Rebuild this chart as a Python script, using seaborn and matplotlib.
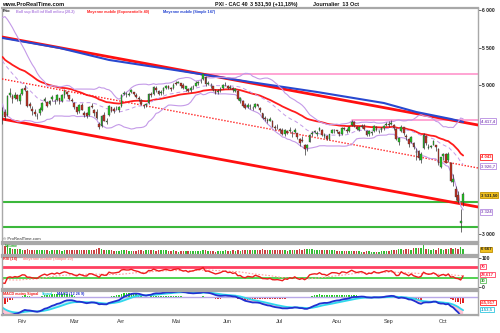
import numpy as np
import pandas as pd
import matplotlib
matplotlib.use("Agg")
import matplotlib.pyplot as plt
import matplotlib.transforms as mtransforms
import seaborn as sns

# ---------------- DATA ----------------
holidays = ["2008-03-21", "2008-03-24", "2008-05-01"]

# warm-up closes (Dec 2007 - Jan 21 2008), used only for indicators
warmup_close = [5590, 5560, 5620, 5660, 5740, 5730, 5720, 5780, 5630, 5620, 5500, 5530, 5540, 5550, 5640, 5650, 5650, 5640, 5614,
                5550, 5520, 5450, 5435, 5440, 5370, 5325, 5250, 5265, 5136, 5050, 5022, 5092, 4744]

open_ = [4600, 4640, 4600, 4860, 4850, 4830, 4860, 4790,
         4880, 4960, 4920, 4740, 4680, 4640, 4580, 4620, 4670, 4780, 4770, 4740, 4810, 4790, 4800, 4820, 4790, 4860, 4900, 4860, 4800,
         4760, 4700, 4650, 4730, 4620, 4620, 4600, 4720, 4660, 4640, 4480, 4450, 4600, 4500, 4600, 4700, 4680, 4680, 4660,
         4720, 4880, 4880, 4870, 4900, 4900, 4870, 4830, 4800, 4720, 4730, 4760, 4880, 4880, 4960, 4920, 4890, 4920, 4960, 4980, 4960, 4960,
         5020, 5030, 5020, 5000, 4950, 4950, 4930, 4970, 4990, 5020, 5050, 5080, 5110, 5010, 4990, 4980, 4920, 4900, 4930, 4960, 5010,
         4990, 4960, 4960, 4920, 4920, 4790, 4790, 4730, 4710, 4720, 4690, 4700, 4740, 4690, 4620, 4560, 4530, 4520, 4520, 4430, 4440,
         4410, 4400, 4340, 4380, 4380, 4360, 4370, 4350, 4270, 4260, 4190, 4150, 4240, 4340, 4370, 4340, 4390, 4400, 4320, 4320, 4280, 4360, 4390,
         4390, 4370, 4340, 4420, 4400, 4380, 4460, 4500, 4440, 4400, 4440, 4450, 4380, 4340, 4350, 4380, 4440, 4380, 4390, 4420, 4460,
         4480, 4470, 4460, 4410, 4240, 4380, 4430, 4310, 4280, 4230, 4220, 4100, 4120, 4000, 4150, 4310, 4160, 4170, 4200, 4190, 4140, 3900,
         4050, 4070, 4000, 3950, 3700, 3600, 3520, 3150, 3430]

high = [4700, 4680, 4860, 4960, 4880, 4900, 4880, 4890,
        4965, 5000, 4935, 4770, 4720, 4680, 4620, 4700, 4770, 4840, 4780, 4800, 4860, 4810, 4880, 4830, 4880, 4940, 4920, 4870, 4820,
        4770, 4710, 4740, 4760, 4650, 4640, 4720, 4760, 4680, 4680, 4500, 4600, 4640, 4560, 4730, 4710, 4700, 4720, 4720,
        4880, 4920, 4900, 4900, 4950, 4910, 4890, 4850, 4810, 4740, 4760, 4890, 4900, 4990, 4980, 4930, 4930, 4970, 5000, 5000, 4970, 5020,
        5060, 5060, 5030, 5020, 4990, 4960, 4980, 5000, 5050, 5050, 5080, 5150, 5120, 5060, 5020, 4990, 4940, 4940, 4970, 5010, 5040,
        5000, 5000, 4970, 4960, 4930, 4840, 4800, 4760, 4760, 4740, 4720, 4760, 4750, 4700, 4630, 4590, 4560, 4570, 4530, 4460, 4470,
        4420, 4420, 4410, 4390, 4430, 4380, 4420, 4360, 4290, 4310, 4210, 4210, 4340, 4380, 4400, 4380, 4440, 4410, 4350, 4330, 4340, 4410, 4410,
        4400, 4380, 4430, 4440, 4420, 4450, 4530, 4510, 4450, 4450, 4470, 4470, 4390, 4390, 4380, 4460, 4450, 4400, 4430, 4460, 4500,
        4510, 4530, 4470, 4420, 4300, 4460, 4440, 4340, 4290, 4320, 4230, 4150, 4130, 4100, 4360, 4330, 4210, 4200, 4260, 4200, 4150, 4040,
        4090, 4090, 4100, 3960, 3800, 3650, 3580, 3330, 3560]

low = [4480, 4530, 4590, 4840, 4760, 4810, 4780, 4740,
       4860, 4920, 4705, 4690, 4600, 4590, 4550, 4600, 4650, 4770, 4700, 4730, 4790, 4740, 4790, 4740, 4770, 4830, 4850, 4800, 4770,
       4680, 4610, 4630, 4660, 4570, 4560, 4590, 4690, 4580, 4540, 4410, 4440, 4510, 4470, 4590, 4640, 4630, 4660, 4640,
       4710, 4860, 4840, 4850, 4890, 4860, 4820, 4790, 4730, 4690, 4700, 4750, 4840, 4870, 4910, 4860, 4870, 4880, 4940, 4950, 4920, 4950,
       5000, 5020, 4960, 4940, 4920, 4900, 4910, 4950, 4980, 5000, 5030, 5070, 4990, 5000, 4960, 4920, 4880, 4880, 4910, 4950, 4990,
       4940, 4940, 4900, 4900, 4800, 4760, 4710, 4680, 4690, 4680, 4660, 4690, 4700, 4640, 4540, 4520, 4490, 4510, 4430, 4400, 4410,
       4350, 4330, 4320, 4340, 4370, 4300, 4350, 4280, 4180, 4230, 4060, 4110, 4230, 4320, 4350, 4310, 4380, 4320, 4290, 4260, 4260, 4350, 4360,
       4350, 4320, 4330, 4390, 4360, 4370, 4450, 4440, 4390, 4380, 4420, 4390, 4320, 4320, 4330, 4370, 4380, 4350, 4370, 4400, 4450,
       4440, 4460, 4390, 4260, 4200, 4370, 4330, 4260, 4170, 4220, 4140, 3990, 4000, 3950, 4140, 4200, 4140, 4150, 4190, 4120, 3920, 3880,
       4000, 3950, 3970, 3700, 3650, 3460, 3420, 3030, 3380]

close = [4654, 4573, 4848, 4893, 4817, 4870, 4818, 4869,
         4951, 4936, 4717, 4720, 4648, 4609, 4589, 4680, 4755, 4815, 4721, 4791, 4839, 4782, 4860, 4789, 4866, 4923, 4884, 4812, 4790,
         4707, 4636, 4729, 4667, 4600, 4587, 4708, 4701, 4628, 4557, 4431, 4586, 4519, 4520, 4720, 4655, 4655, 4683, 4707,
         4867, 4899, 4877, 4879, 4927, 4874, 4843, 4813, 4747, 4716, 4745, 4878, 4866, 4975, 4932, 4882, 4912, 4956, 4990, 4960, 4940, 4996,
         5015, 5044, 4993, 4956, 4980, 4925, 4963, 4973, 5026, 5035, 5059, 5142, 5012, 5025, 4984, 4936, 4898, 4919, 4949, 5002, 5014,
         4958, 4974, 4926, 4948, 4816, 4822, 4723, 4690, 4735, 4713, 4691, 4747, 4712, 4660, 4552, 4547, 4522, 4540, 4439, 4428, 4434,
         4395, 4341, 4390, 4356, 4400, 4357, 4402, 4297, 4225, 4255, 4143, 4198, 4327, 4359, 4376, 4359, 4424, 4335, 4329, 4271, 4336, 4395, 4392,
         4379, 4337, 4424, 4415, 4379, 4441, 4507, 4452, 4409, 4435, 4452, 4404, 4335, 4378, 4364, 4447, 4395, 4384, 4419, 4445, 4483,
         4460, 4484, 4420, 4278, 4283, 4442, 4351, 4308, 4209, 4299, 4168, 4102, 4026, 4078, 4324, 4215, 4163, 4183, 4253, 4163, 3953, 4032,
         4080, 3957, 4080, 3711, 3742, 3496, 3443, 3176, 3531]

volume = [330, 290, 300, 230, 190, 180, 200, 190,
          170, 150, 190, 160, 160, 150, 140, 160, 170, 165, 150, 120, 140, 145, 150, 140, 130, 150, 140, 145, 160,
          150, 155, 160, 150, 165, 150, 170, 160, 150, 175, 210, 190, 170, 160, 150, 140, 130, 120, 130,
          170, 160, 140, 130, 120, 125, 130, 140, 140, 130, 140, 160, 150, 160, 130, 140, 140, 140, 150, 110, 130, 150,
          120, 100, 130, 130, 120, 120, 110, 120, 130, 120, 130, 140, 150, 130, 130, 120, 90, 110, 120, 130, 150,
          130, 130, 140, 130, 150, 130, 150, 150, 140, 160, 140, 140, 140, 140, 180, 140, 140, 140, 160, 170, 150,
          170, 160, 150, 120, 150, 160, 150, 170, 180, 170, 200, 190, 190, 180, 150, 160, 170, 150, 140, 140, 150, 150, 150,
          120, 110, 130, 120, 120, 120, 130, 120, 120, 110, 100, 100, 110, 110, 100, 100, 90, 100, 110, 110, 110,
          130, 140, 140, 170, 180, 200, 170, 180, 190, 170, 210, 230, 220, 230, 330, 200, 180, 170, 180, 170, 210, 200,
          170, 180, 180, 210, 200, 230, 190, 240, 200]

# Moving average 147
sma147_dates = ["2008-01-22", "2008-02-22", "2008-03-25", "2008-05-06", "2008-06-13",
                "2008-07-22", "2008-08-28", "2008-09-16", "2008-10-06", "2008-10-13"]
sma147_vals = [5631, 5497, 5336, 5188, 5040, 4906, 4758, 4638, 4544, 4504]

# drawn objects: channel trendlines (start/end price), horizontal lines
channel_upper = [5644, 4463]
channel_mid = [5081, 3886]
channel_lower = [4544, 3363]
pink_dates = ["2008-05-19", "2008-08-11"]
pink_levels = [5142, 4530]
green_levels = [3430, 3094]

month_labels = ["Fév", "Mar", "Avr", "Mai", "Jun", "Jul", "Aou", "Sep", "Oct"]

# ---------------- PREP ----------------
dates = pd.bdate_range("2008-01-22", "2008-10-13")
dates = dates[~dates.isin(pd.to_datetime(holidays))]
n = len(close)
assert len(dates) == n == len(open_) == len(high) == len(low) == len(volume)
x = np.arange(n)
o = np.array(open_, float); c = np.array(close, float)
h = np.maximum(np.array(high, float), np.maximum(o, c))
l = np.minimum(np.array(low, float), np.minimum(o, c))
date_idx = {d.strftime("%Y-%m-%d"): i for i, d in enumerate(dates)}

nw = len(warmup_close)
full = pd.Series(warmup_close + list(close), dtype=float)
ema40 = full.ewm(span=40, adjust=False).mean().iloc[nw:].values
bmid = full.rolling(20).mean().iloc[nw:].values
bsd = full.rolling(20).std(ddof=0).iloc[nw:].values
bup, blo = bmid + 2 * bsd, bmid - 2 * bsd
delta = full.diff()
ag = delta.clip(lower=0).ewm(alpha=1 / 14, adjust=False).mean()
al = (-delta.clip(upper=0)).ewm(alpha=1 / 14, adjust=False).mean()
rsi_full = 100 - 100 / (1 + ag / al)
rsi = rsi_full.iloc[nw:].values
rsi_ma = rsi_full.rolling(20).mean().iloc[nw:].values
macd_full = full.ewm(span=12, adjust=False).mean() - full.ewm(span=26, adjust=False).mean()
sig_full = macd_full.ewm(span=9, adjust=False).mean()
macd = macd_full.iloc[nw:].values
sig = sig_full.iloc[nw:].values
hist = macd - sig

# ---------------- PLOT ----------------
sns.set_theme(style="white")
plt.rcParams["font.family"] = ["Liberation Sans", "DejaVu Sans"]
fig = plt.figure(figsize=(5, 3.33), dpi=100)
W, H = 500, 333
XL = (-0.2, 192.0)
GREY = "#a8a8a8"


def mkax(top, bot):
    ax = fig.add_axes([2 / W, 1 - bot / H, 476 / W, (bot - top) / H])
    ax.set_facecolor("white")
    ax.set_xlim(*XL)
    for s in ["left", "right"]:
        ax.spines[s].set_color(GREY); ax.spines[s].set_linewidth(1)
    for s in ["top", "bottom"]:
        ax.spines[s].set_color(GREY); ax.spines[s].set_linewidth(1.6)
    ax.yaxis.tick_right()
    ax.tick_params(axis="y", length=2, width=0.5, pad=1, labelsize=3.6, colors="#222222")
    ax.tick_params(axis="x", length=0, labelbottom=False)
    ax.grid(False)
    return ax


def rbox(ax, yv, text, fc="white", ec="#b58be0", tc="#9060c0"):
    tr = mtransforms.blended_transform_factory(ax.transAxes, ax.transData)
    ax.text(1.006, yv, text, transform=tr, fontsize=3.1, fontweight="bold", color=tc, va="center", ha="left",
            bbox=dict(boxstyle="square,pad=0.15", fc=fc, ec=ec, lw=0.6), clip_on=False, zorder=10)


# ----- price panel
ax = mkax(8, 242)
ax.set_ylim(2893, 6033)
ax.set_yticks([3000, 5000, 5500, 6000])
ax.set_yticklabels(["3 000", "5 000", "5 500", "6 000"], fontweight="bold")

for lv in green_levels:
    ax.axhline(lv, color="#3cb83c", lw=1.5, zorder=2)
for d, lv in zip(pink_dates, pink_levels):
    ax.plot([date_idx[d], XL[1]], [lv, lv], color="#ff8cc8", lw=1.1, zorder=2)
ax.plot(XL, channel_upper, color="#ff1010", lw=2, zorder=3)
ax.plot(XL, channel_lower, color="#ff1010", lw=2, zorder=3)
ax.plot(XL, channel_mid, color="#ff2020", lw=1, ls=(0, (1, 1.2)), zorder=3)

sma_x = [date_idx[d] for d in sma147_dates]
sns.lineplot(x=sma_x, y=sma147_vals, ax=ax, color="#2848d0", linewidth=1.5, zorder=3)
sns.lineplot(x=x, y=ema40, ax=ax, color="#ff1c1c", linewidth=1.3, zorder=3)
sns.lineplot(x=x, y=bup, ax=ax, color="#c49ae8", linewidth=0.8, zorder=3)
sns.lineplot(x=x, y=blo, ax=ax, color="#c49ae8", linewidth=0.8, zorder=3)
sns.lineplot(x=x, y=bmid, ax=ax, color="#c49ae8", linewidth=0.7, linestyle=(0, (4, 3)), zorder=3)

up = c >= o
ax.vlines(x, l, h, color="#333333", lw=0.5, zorder=4)
ax.bar(x, np.maximum(np.abs(c - o), 4), bottom=np.minimum(o, c), width=0.7,
       color=np.where(up, "#22c422", "#c03020"), edgecolor="#333333", linewidth=0.25, zorder=5)
ax.set_xlabel(""); ax.set_ylabel("")

rbox(ax, 4517, "4 417,4")
rbox(ax, 4034, "4 043", ec="#ff2020", tc="#ff2020")
rbox(ax, 3913, "3 926,7")
rbox(ax, 3524, "3 531,50", fc="#f0c020", ec="#c09000", tc="#222222")
rbox(ax, 3296, "3 324")

# ----- volume panel
axv = mkax(244, 255)
axv.bar(x, volume, width=0.6, color=np.where(up, "#33bb33", "#c84040"), linewidth=0)
axv.set_ylim(0, 340)
axv.set_yticks([])
rbox(axv, 170, "6 667", fc="#f0c020", ec="#c09000", tc="#222222")

# ----- RSI panel
axr = mkax(257, 289)
axr.set_ylim(-7, 103.5)
axr.axhline(70, color="#ff4060", lw=2)
axr.axhline(30, color="#33cc33", lw=1.2)
sns.lineplot(x=x, y=rsi_ma, ax=axr, color="#ff9c9c", linewidth=0.8, linestyle=(0, (1.5, 1.5)))
sns.lineplot(x=x, y=rsi, ax=axr, color="#ee1c1c", linewidth=1.0)
axr.set_yticks([0, 100]); axr.set_yticklabels(["0", "100"], fontweight="bold")
axr.set_xlabel(""); axr.set_ylabel("")
rbox(axr, 70, "70", ec="#ff4060", tc="#ff2040")
rbox(axr, 42, "28,617", ec="#ff4060", tc="#ff2040")
rbox(axr, 22, "30", ec="#60c060", tc="#30a030")

# ----- MACD panel
axm = mkax(291, 315)
axm.set_ylim(-212, 71)
axm.axhline(0, color="#b8a8e8", lw=1)
axm.fill_between(x, macd, sig, where=macd < sig, color="#ffc4d4", interpolate=True, lw=0)
axm.fill_between(x, macd, sig, where=macd >= sig, color="#c4eef8", interpolate=True, lw=0)
axm.bar(x, hist, width=0.6, color=np.where(hist >= 0, "#22cc22", "#e02020"), linewidth=0)
sns.lineplot(x=x, y=sig, ax=axm, color="#30d8ec", linewidth=1.3)
sns.lineplot(x=x, y=macd, ax=axm, color="#2030d0", linewidth=1.3)
axm.set_yticks([])
axm.set_xlabel(""); axm.set_ylabel("")
rbox(axm, -66, "-65,917", ec="#ff2020", tc="#ff2020")
rbox(axm, -150, "-153,5", ec="#30c8e0", tc="#20a8c8")

month_first = [i for i in range(n) if i == 0 or dates[i].month != dates[i - 1].month][1:]
axm.set_xticks(month_first)
axm.set_xticklabels(month_labels)
axm.tick_params(axis="x", length=0, pad=3, labelsize=4, labelbottom=True, colors="#333333")


# ----- header texts
def ft(xp, yp, s, size=3.9, color="#111111", weight="bold"):
    fig.text(xp / W, 1 - yp / H, s, fontsize=size, color=color, fontweight=weight, va="center", ha="left")


ft(2, 4.5, "www.ProRealTime.com", size=4.1)
ft(215, 4.5, "PXI - CAC 40")
ft(250, 4.5, "3 531,50 (+11,18%)")
ft(313, 4.5, "Journalier  13 Oct")
LS = 2.7
ft(3, 11.5, "Prix:", size=LS)
ft(16, 11.5, "Boll sup Boll inf Boll milieu (20.2)", size=LS, color="#b080e0")
ft(87, 11.5, "Moyenne mobile (Exponentielle 40)", size=LS, color="#ff2020")
ft(163, 11.5, "Moyenne mobile (Simple 147)", size=LS, color="#2040d0")
ft(3, 239, "© ProRealTime.com", size=3.1, color="#333333", weight="normal")
ft(5, 246, "Volume", size=LS, color="#33aa33")
ft(3, 259, "RSI (14)", size=LS, color="#ee2020")
ft(23, 259, "Moyenne mobile (Simple 20)", size=LS, color="#ff8c8c")
ft(3, 293.5, "MACD moins Signal", size=LS, color="#ee2020")
ft(42, 293.5, "Signal", size=LS, color="#20c8dc")
ft(57, 293.5, "MACD (12 26 9)", size=LS, color="#2030d0")

fig.savefig("out.png", dpi=100, facecolor="white")
